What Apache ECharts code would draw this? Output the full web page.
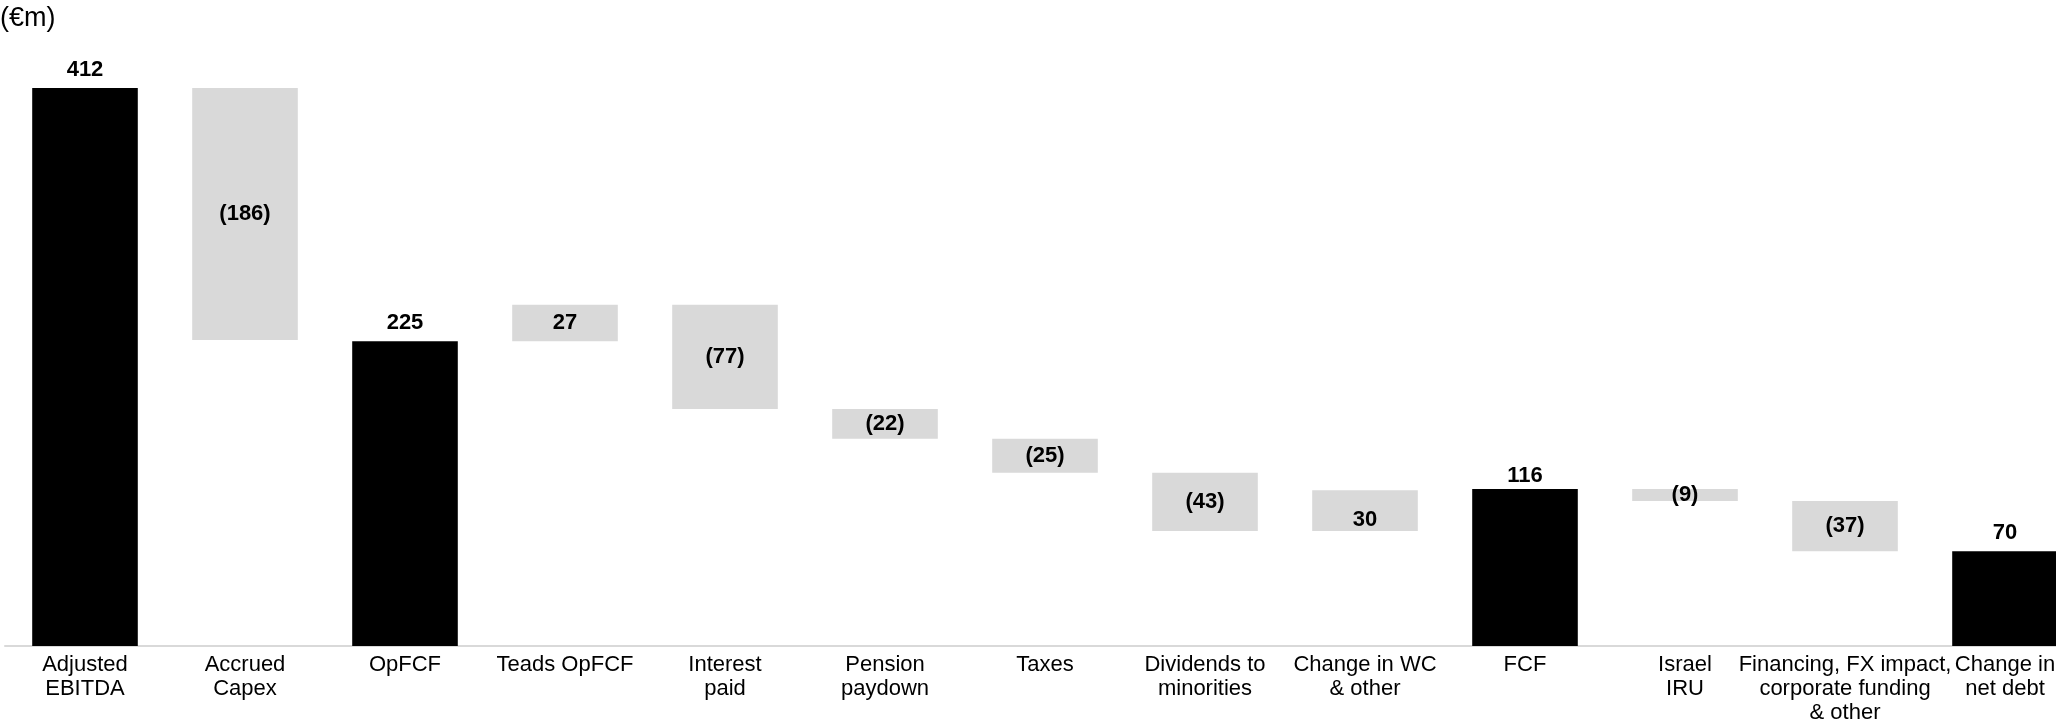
<!DOCTYPE html>
<html>
<head>
<meta charset="utf-8">
<title>Cash flow bridge</title>
<script src="https://cdn.jsdelivr.net/npm/echarts@6/dist/echarts.min.js"></script>
<style>
  html, body { margin: 0; padding: 0; background: #ffffff; overflow: hidden; }
  /* the last column runs past the right edge of the page */
  #chart { width: 2085px; height: 725px; }
</style>
</head>
<body>
<div id="chart"></div>
<script>
// Bridge steps, in €m
const categories = [
  'Adjusted\nEBITDA', 'Accrued\nCapex', 'OpFCF', 'Teads OpFCF', 'Interest\npaid',
  'Pension\npaydown', 'Taxes', 'Dividends to\nminorities', 'Change in WC\n& other', 'FCF',
  'Israel\nIRU', 'Financing, FX impact,\ncorporate funding\n& other', 'Change in\nnet debt'
];
const values = [412, -186, 225, 27, -77, -22, -25, -43, 30, 116, -9, -37, 70];
// 'total' bars stand on the axis, 'step' bars float from the running total
const kinds = ['total', 'step', 'total', 'step', 'step', 'step', 'step', 'step', 'step', 'total', 'step', 'step', 'total'];

const TOTAL_COLOR = '#000000';
const STEP_COLOR = '#d9d9d9';
const FONT = "'Liberation Sans', Arial, Helvetica, sans-serif";

// Build the invisible base and the visible bar height for each step
const bases = [];
const heights = [];
let running = 0;
values.forEach((v, i) => {
  if (kinds[i] === 'total') {
    bases.push(0);
    heights.push(v);
    running = v;
  } else {
    bases.push(Math.min(running, running + v));
    heights.push(Math.abs(v));
    running += v;
  }
});

const fmt = v => (v < 0 ? '(' + Math.abs(v) + ')' : String(v));

// label nudges: the WC step sits low in its box, FCF sits close to its bar
const labelOffsets = { 8: [0, 9], 9: [0, 5] };

const barData = heights.map((h, i) => {
  const isTotal = kinds[i] === 'total';
  const item = {
    value: h,
    itemStyle: { color: isTotal ? TOTAL_COLOR : STEP_COLOR },
    label: {
      show: true,
      position: isTotal ? 'top' : 'inside',
      distance: 7,
      formatter: () => fmt(values[i])
    }
  };
  if (labelOffsets[i]) item.label.offset = labelOffsets[i];
  return item;
});

const chart = echarts.init(document.getElementById('chart'), null, { renderer: 'canvas' });

chart.setOption({
  animation: false,
  backgroundColor: '#ffffff',
  title: {
    text: '(€m)',
    left: 0,
    top: 5,
    padding: 0,
    textStyle: { fontFamily: FONT, fontSize: 27, fontWeight: 'normal', color: '#000000' }
  },
  grid: { left: 5, right: 0, top: 88, bottom: 78 },
  xAxis: {
    type: 'category',
    data: categories,
    axisTick: { show: false },
    axisLine: { lineStyle: { color: '#d9d9d9', width: 2 } },
    axisLabel: {
      interval: 0,
      margin: 7,
      fontFamily: FONT,
      fontSize: 22,
      lineHeight: 24,
      color: '#000000'
    }
  },
  yAxis: {
    type: 'value',
    show: false,
    min: 0,
    max: 'dataMax',
    splitLine: { show: false }
  },
  series: [
    {
      type: 'bar',
      stack: 'bridge',
      data: bases,
      itemStyle: { color: 'transparent' },
      emphasis: { disabled: true },
      silent: true,
      barCategoryGap: '34%'
    },
    {
      type: 'bar',
      stack: 'bridge',
      data: barData,
      barCategoryGap: '34%',
      label: {
        fontFamily: FONT,
        fontSize: 22,
        fontWeight: 'bold',
        color: '#000000'
      }
    }
  ]
});
</script>
</body>
</html>
